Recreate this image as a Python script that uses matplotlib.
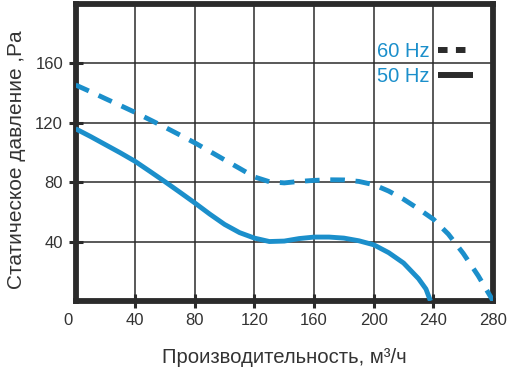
import matplotlib
matplotlib.use('Agg')
import matplotlib.pyplot as plt
from matplotlib.transforms import ScaledTranslation

plt.rcParams['font.family'] = ['Liberation Sans', 'DejaVu Sans']

# airflow, m3/h
flow_60 = [0, 10, 20, 30, 40, 50, 60, 70, 80, 90, 100, 110, 120, 130, 140,
           150, 160, 170, 180, 190, 200, 210, 220, 230, 240, 250, 260, 270, 280]
pres_60 = [145.5, 141, 136.3, 131.7, 127, 122, 117, 111.8, 106.5, 100.8, 95,
           89.3, 83.5, 80.3, 79.5, 80.5, 81.2, 81.6, 81.5, 80.5, 78.3, 74, 68.5,
           62, 55, 45, 32, 17, 0]

flow_50 = [0, 10, 20, 30, 40, 50, 60, 70, 80, 90, 100, 110, 120, 130, 140,
           150, 160, 170, 180, 190, 200, 210, 220, 230, 235, 238]
pres_50 = [116, 110.8, 105.3, 99.8, 94, 87.2, 80.3, 73.2, 66, 58.5, 51.5, 46,
           42.3, 40, 40.3, 42, 43, 43, 42.3, 40.5, 37.8, 32.5, 25.5, 15, 8, 0]

x_ticks = [0, 40, 80, 120, 160, 200, 240, 280]
y_ticks = [40, 80, 120, 160]
series_labels = ['60 Hz', '50 Hz']

blue = '#1b8fcb'
dark = '#2b2b2b'

fig = plt.figure(figsize=(5.12, 3.71), dpi=100)
ax = fig.add_axes([0.1475, 0.189, 0.8155, 0.80])

ax.plot(flow_60, pres_60, color=blue, lw=3.5, dashes=(3, 2.2),
        dash_joinstyle='round', zorder=3)
ax.plot(flow_50, pres_50, color=blue, lw=3.5, solid_capstyle='butt',
        solid_joinstyle='round', zorder=3)

ax.set_xlim(0, 280)
ax.set_ylim(0, 200)
ax.set_xticks(x_ticks)
ax.set_yticks(y_ticks)
ax.grid(True, color=dark, lw=1.1)
ax.set_axisbelow(True)

for s in ax.spines.values():
    s.set_linewidth(4.2)
    s.set_color(dark)

ax.tick_params(axis='both', direction='inout', length=10, width=2.2,
               color=dark, labelsize=12, labelcolor='#333333')
ax.tick_params(axis='x', pad=4)
ax.tick_params(axis='y', pad=4)
for t in (ax.xaxis.get_major_ticks()[0], ax.xaxis.get_major_ticks()[-1]):
    t.tick1line.set_visible(False)
lab0 = ax.get_xticklabels()[0]
lab0.set_transform(lab0.get_transform() +
                   ScaledTranslation(-0.08, 0, fig.dpi_scale_trans))

ax.set_xlabel('Производительность, м³/ч', fontsize=14.6, color='#333333',
              labelpad=14)
ax.set_ylabel('Статическое давление ,Pa', fontsize=15, color='#333333')
ax.yaxis.set_label_coords(-0.118, 0.475)

# hand-made legend
ax.text(0.722, 0.822, series_labels[0], transform=ax.transAxes, color=blue,
        fontsize=14.5, va='baseline', ha='left')
ax.text(0.722, 0.739, series_labels[1], transform=ax.transAxes, color=blue,
        fontsize=14.5, va='baseline', ha='left')
ax.plot([0.868, 0.940], [0.845, 0.845], transform=ax.transAxes, color=dark,
        lw=4.3, dashes=(1.6, 1.4), clip_on=False)
ax.plot([0.868, 0.952], [0.761, 0.761], transform=ax.transAxes, color=dark,
        lw=4.3, solid_capstyle='butt', clip_on=False)

fig.savefig('out.png', dpi=100)
